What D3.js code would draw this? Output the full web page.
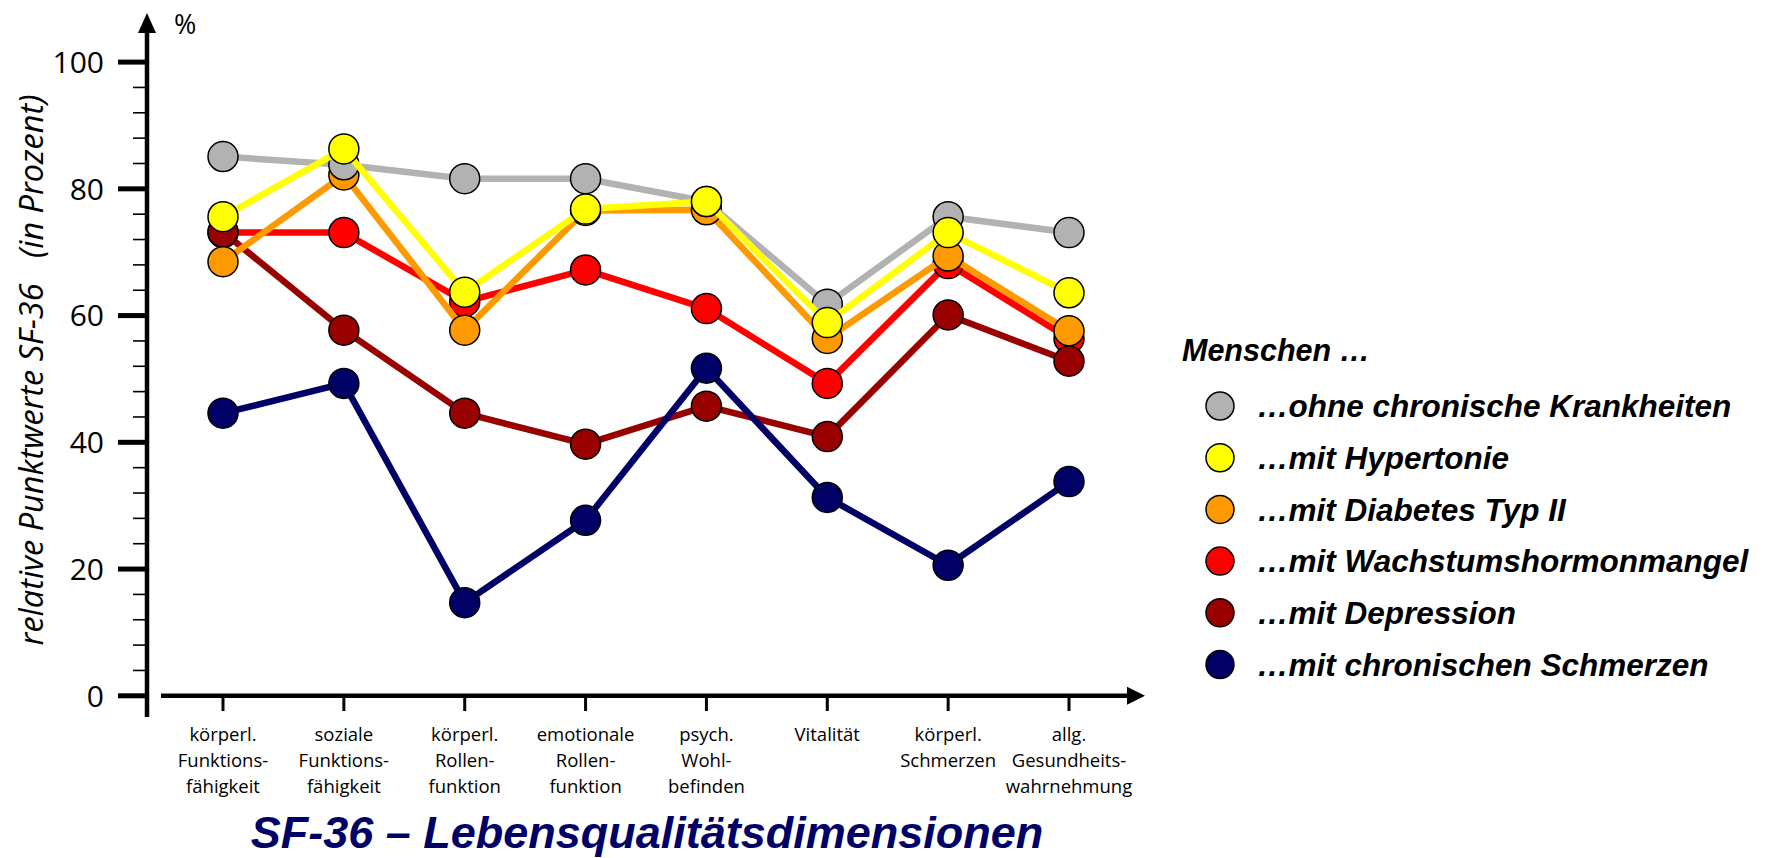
<!DOCTYPE html>
<html>
<head>
<meta charset="utf-8">
<script src="https://cdn.jsdelivr.net/npm/d3@7"></script>
<style>
  html, body { margin: 0; padding: 0; background: #fff; overflow: hidden; }
  svg { display: block; }
</style>
</head>
<body>
<svg id="chart" width="1768" height="858"></svg>
<script>
// ---- data ----
const categories = [
  ["körperl.", "Funktions-", "fähigkeit"],
  ["soziale", "Funktions-", "fähigkeit"],
  ["körperl.", "Rollen-", "funktion"],
  ["emotionale", "Rollen-", "funktion"],
  ["psych.", "Wohl-", "befinden"],
  ["Vitalität"],
  ["körperl.", "Schmerzen"],
  ["allg.", "Gesundheits-", "wahrnehmung"]
];
const seriesNames = [
  "…ohne chronische Krankheiten",
  "…mit Hypertonie",
  "…mit Diabetes Typ II",
  "…mit Wachstumshormonmangel",
  "…mit Depression",
  "…mit chronischen Schmerzen"
];
const seriesColors = ["#b2b2b2", "#ffff00", "#ff9900", "#ff0000", "#990000", "#000066"];
const ohne        = [85.1, 83.8, 81.6, 81.6, 78.0, 61.8, 75.6, 73.1];
const hypertonie  = [75.6, 86.3, 63.7, 76.8, 78.0, 58.9, 73.1, 63.6];
const diabetes    = [68.5, 82.2, 57.7, 76.6, 76.7, 56.4, 69.4, 57.6];
const wachstum    = [73.1, 73.1, 62.2, 67.2, 61.1, 49.3, 68.2, 56.4];
const depression  = [73.2, 57.7, 44.6, 39.7, 45.7, 40.9, 60.1, 52.8];
const schmerzen   = [44.6, 49.3, 14.7, 27.7, 51.7, 31.3, 20.6, 33.8];
const seriesValues = [ohne, hypertonie, diabetes, wachstum, depression, schmerzen];
const yMajorTicks = [0, 20, 40, 60, 80, 100];
const yMinorTicks = d3.range(0, 101, 4).filter(v => v % 20 !== 0);
const drawOrder = [3, 4, 5, 2, 0, 1];

// ---- layout ----
const svg = d3.select("#chart");
const y = d3.scaleLinear().domain([0, 100]).range([695.8, 62.1]);
const x = d3.scalePoint().domain(d3.range(categories.length)).range([223, 1069]);
const axisX = 147;

// y axis line with arrow
svg.append("line").attr("x1", axisX).attr("x2", axisX).attr("y1", 717).attr("y2", 30)
  .attr("stroke", "#000").attr("stroke-width", 4.5);
svg.append("path").attr("d", `M${axisX - 9},33 L${axisX},13 L${axisX + 9},33 Z`).attr("fill", "#000");

// y ticks
svg.selectAll(".ymaj").data(yMajorTicks).enter().append("line")
  .attr("x1", 118).attr("x2", axisX).attr("y1", d => y(d)).attr("y2", d => y(d))
  .attr("stroke", "#000").attr("stroke-width", 5);
svg.selectAll(".ymin").data(yMinorTicks).enter().append("line")
  .attr("x1", 133).attr("x2", axisX).attr("y1", d => y(d)).attr("y2", d => y(d))
  .attr("stroke", "#000").attr("stroke-width", 1.6);
svg.selectAll(".ylab").data(yMajorTicks).enter().append("text")
  .attr("x", 104).attr("y", d => y(d)).attr("dy", "0.36em")
  .attr("text-anchor", "end").attr("font-family", "'Open Sans', sans-serif")
  .attr("font-size", 30).text(d => d);

svg.append("text").attr("x", 174).attr("y", 24).attr("dy", "0.36em")
  .attr("font-family", "'Open Sans', sans-serif").attr("font-size", 27).text("%");

svg.append("text")
  .attr("transform", `translate(31,370) rotate(-90)`)
  .attr("text-anchor", "middle").attr("dy", "0.36em")
  .attr("font-family", "'Open Sans', sans-serif").attr("font-style", "italic")
  .attr("font-size", 32.5).style("white-space", "pre")
  .text("relative Punktwerte SF-36   (in Prozent)");

// x axis with arrow
svg.append("line").attr("x1", 161).attr("x2", 1130).attr("y1", 695.8).attr("y2", 695.8)
  .attr("stroke", "#000").attr("stroke-width", 4.5);
svg.append("path").attr("d", `M1127,686.8 L1145,695.8 L1127,704.8 Z`).attr("fill", "#000");
svg.selectAll(".xt").data(d3.range(categories.length)).enter().append("line")
  .attr("x1", d => x(d)).attr("x2", d => x(d)).attr("y1", 696).attr("y2", 711)
  .attr("stroke", "#000").attr("stroke-width", 3);

const xl = svg.selectAll(".xl").data(categories).enter().append("text")
  .attr("text-anchor", "middle").attr("font-family", "'Open Sans', sans-serif")
  .attr("font-size", 18.5);
xl.each(function(lines, i) {
  const t = d3.select(this);
  lines.forEach((ln, k) => {
    t.append("tspan").attr("x", x(i)).attr("y", 741 + k * 26).text(ln);
  });
});

svg.append("text").attr("x", 647).attr("y", 848).attr("text-anchor", "middle")
  .attr("font-family", "'Liberation Sans', Arial, sans-serif").attr("font-weight", "bold")
  .attr("font-style", "italic").attr("font-size", 45).attr("fill", "#000066")
  .text("SF-36 – Lebensqualitätsdimensionen");

// series
const line = d3.line().x((d, i) => x(i)).y(d => y(d));
drawOrder.forEach(s => {
  const g = svg.append("g");
  g.append("path").datum(seriesValues[s]).attr("d", line)
    .attr("fill", "none").attr("stroke", seriesColors[s]).attr("stroke-width", 6.5)
    .attr("stroke-linejoin", "round");
  g.selectAll("circle").data(seriesValues[s]).enter().append("circle")
    .attr("cx", (d, i) => x(i)).attr("cy", d => y(d)).attr("r", 15)
    .attr("fill", seriesColors[s]).attr("stroke", "#000").attr("stroke-width", 1.5);
});

// legend
svg.append("text").attr("x", 1182).attr("y", 350).attr("dy", "0.36em")
  .attr("font-family", "'Liberation Sans', Arial, sans-serif").attr("font-weight", "bold")
  .attr("font-style", "italic").attr("font-size", 30.5).text("Menschen …");
const lg = svg.selectAll(".lg").data(seriesNames).enter().append("g")
  .attr("transform", (d, i) => `translate(1220,${406 + i * 51.7})`);
lg.append("circle").attr("r", 14).attr("fill", (d, i) => seriesColors[i])
  .attr("stroke", "#000").attr("stroke-width", 1.5);
lg.append("text").attr("x", 37).attr("dy", "0.36em")
  .attr("font-family", "'Liberation Sans', Arial, sans-serif").attr("font-weight", "bold")
  .attr("font-style", "italic").attr("font-size", 31.5).text(d => d);
</script>
</body>
</html>
